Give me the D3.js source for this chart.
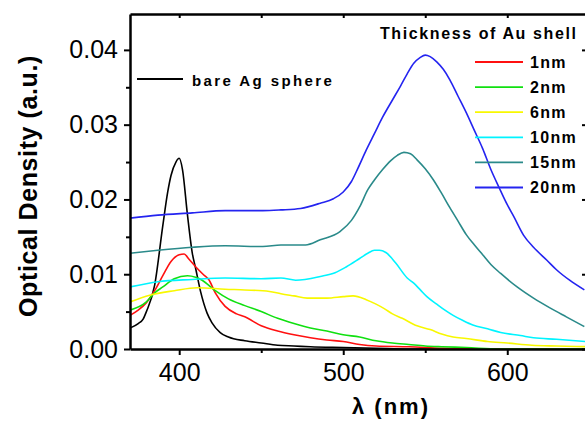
<!DOCTYPE html>
<html>
<head>
<meta charset="utf-8">
<script src="https://cdn.jsdelivr.net/npm/d3@7"></script>
<style>
  body { margin: 0; background: #fff; }
  svg { display: block; font-family: 'Liberation Sans', Arial, sans-serif; }
</style>
</head>
<body>
<svg id="chart" width="585" height="422"></svg>
<script>
// spectra (wavelength in nm, optical density in a.u.)
const agLambda = [370, 375, 378, 380, 385, 390, 393, 395, 398, 400, 402, 405, 408, 410, 413, 417, 420, 425, 430, 440, 450, 460, 470, 480, 500, 520, 540, 650];
const agOD = [0.0028, 0.0034, 0.0040, 0.0050, 0.0085, 0.0165, 0.0210, 0.0232, 0.0250, 0.0255, 0.0240, 0.0180, 0.0128, 0.0108, 0.0077, 0.0048, 0.0035, 0.0022, 0.0016, 0.0011, 0.0008, 0.0005, 0.0004, 0.0003, 0.0002, 0.0001, 0, 0];

const nm1Lambda = [370, 375, 380, 385, 390, 395, 400, 403, 406, 410, 415, 418, 422, 428, 435, 440, 450, 460, 470, 480, 490, 500, 510, 520, 540, 560, 580, 650];
const nm1OD = [0.0045, 0.0052, 0.0062, 0.0078, 0.0098, 0.0117, 0.0126, 0.0127, 0.0120, 0.0110, 0.0099, 0.0093, 0.0075, 0.0057, 0.0047, 0.0043, 0.0031, 0.0024, 0.0019, 0.0015, 0.0012, 0.0010, 0.0006, 0.0004, 0.0003, 0.0001, 0, 0];

const nm2Lambda = [370, 380, 385, 390, 397, 405, 410, 414, 422, 430, 440, 450, 460, 470, 480, 490, 500, 510, 520, 530, 540, 550, 560, 575, 595, 650];
const nm2OD = [0.0052, 0.0063, 0.0075, 0.0083, 0.0094, 0.0098, 0.0096, 0.0092, 0.0078, 0.0067, 0.0058, 0.0050, 0.0041, 0.0034, 0.0028, 0.0024, 0.0019, 0.0016, 0.0011, 0.0008, 0.0006, 0.0004, 0.0003, 0.0002, 0, 0];

const nm6Lambda = [370, 382, 397, 411, 428, 440, 455, 462, 470, 478, 490, 500, 506, 514, 520, 525, 530, 536, 545, 553, 560, 567, 575, 588, 600, 615, 630, 650];
const nm6OD = [0.0063, 0.0072, 0.0078, 0.0082, 0.0080, 0.0079, 0.0077, 0.0074, 0.0071, 0.0068, 0.0068, 0.0070, 0.0071, 0.0066, 0.0060, 0.0054, 0.0047, 0.0041, 0.0031, 0.0026, 0.0020, 0.0016, 0.0014, 0.0010, 0.0008, 0.0005, 0.0004, 0.0003];

const nm10Lambda = [370, 387, 408, 428, 450, 462, 471, 486, 495, 502, 510, 515, 519, 522, 526, 532, 539, 543, 547, 551, 557, 562, 567, 573, 579, 588, 596, 608, 616, 630, 648];
const nm10OD = [0.0083, 0.0090, 0.0093, 0.0095, 0.0094, 0.0095, 0.0092, 0.0097, 0.0102, 0.0110, 0.0121, 0.0128, 0.0132, 0.0132, 0.0129, 0.0115, 0.0095, 0.0088, 0.0079, 0.0070, 0.0060, 0.0052, 0.0045, 0.0038, 0.0032, 0.0027, 0.0022, 0.0018, 0.0015, 0.0013, 0.0010];

const nm15Lambda = [370, 387, 408, 428, 451, 462, 477, 486, 498, 505, 510, 515, 519, 524, 529, 533, 537, 541, 545, 550, 555, 560, 565, 570, 575, 580, 585, 590, 596, 606, 616, 626, 636, 647];
const nm15OD = [0.0128, 0.0132, 0.0136, 0.0138, 0.0137, 0.0139, 0.0139, 0.0146, 0.0157, 0.0172, 0.0190, 0.0213, 0.0226, 0.0240, 0.0252, 0.0259, 0.0263, 0.0261, 0.0253, 0.0241, 0.0226, 0.0208, 0.0189, 0.0171, 0.0153, 0.0139, 0.0126, 0.0113, 0.0101, 0.0083, 0.0068, 0.0055, 0.0043, 0.0030];

const nm20Lambda = [370, 387, 408, 428, 451, 462, 474, 486, 494, 500, 505, 509, 514, 519, 524, 530, 535, 539, 543, 547, 550, 553, 557, 561, 565, 570, 575, 580, 585, 590, 595, 600, 604, 610, 616, 624, 630, 638, 647];
const nm20OD = [0.0175, 0.0179, 0.0182, 0.0185, 0.0185, 0.0186, 0.0188, 0.0195, 0.0201, 0.0210, 0.0224, 0.0242, 0.0266, 0.0288, 0.0310, 0.0333, 0.0352, 0.0368, 0.0382, 0.0390, 0.0393, 0.0391, 0.0384, 0.0374, 0.0360, 0.0338, 0.0316, 0.0292, 0.0268, 0.0240, 0.0216, 0.0193, 0.0177, 0.0152, 0.0136, 0.0119, 0.0106, 0.0092, 0.0079];

const shellLabels = ['1nm', '2nm', '6nm', '10nm', '15nm', '20nm'];
const shellColors = ['#ff1010', '#10e010', '#f8f800', '#00f4ff', '#2a8a8a', '#2424f0'];
const shellLambdas = [nm1Lambda, nm2Lambda, nm6Lambda, nm10Lambda, nm15Lambda, nm20Lambda];
const shellODs = [nm1OD, nm2OD, nm6OD, nm10OD, nm15OD, nm20OD];

const xMajor = [400, 500, 600];
const xMinor = [450, 550, 650];
const yMajor = [0, 0.01, 0.02, 0.03, 0.04];
const yMinor = [0.005, 0.015, 0.025, 0.035];

const x = d3.scaleLinear().domain([370, 648]).range([130, 586]);
const y = d3.scaleLinear().domain([0, 0.0448]).range([349, 14]);

const svg = d3.select('#chart');

svg.append('clipPath').attr('id', 'plot')
  .append('rect').attr('x', 130).attr('y', 14).attr('width', 460).attr('height', 335);

const line = d3.line()
  .x(d => x(d[0]))
  .y(d => y(d[1]))
  .curve(d3.curveMonotoneX);

const series = [{ color: '#000', lambda: agLambda, od: agOD }]
  .concat(shellLabels.map((l, i) => ({ color: shellColors[i], lambda: shellLambdas[i], od: shellODs[i] })));

svg.append('g').attr('clip-path', 'url(#plot)')
  .selectAll('path')
  .data(series)
  .enter()
  .append('path')
  .attr('d', s => line(d3.zip(s.lambda, s.od)))
  .attr('fill', 'none')
  .attr('stroke', s => s.color)
  .attr('stroke-width', 1.6);

// axes
const styleAxis = (g, size) => {
  g.select('.domain').attr('stroke-width', 2.5);
  g.selectAll('.tick line').attr('stroke-width', 2);
  g.selectAll('text').attr('font-size', size).attr('font-family', "'Liberation Sans', Arial, sans-serif");
};

svg.append('g')
  .attr('transform', 'translate(0,349)')
  .call(d3.axisBottom(x).tickValues(xMajor).tickSize(6).tickSizeOuter(0).tickPadding(8).tickFormat(d3.format('d')))
  .call(g => styleAxis(g, 25));
svg.append('g')
  .attr('transform', 'translate(0,349)')
  .call(d3.axisBottom(x).tickValues(xMinor).tickSize(4).tickFormat(''))
  .call(g => g.select('.domain').remove())
  .call(g => g.selectAll('.tick line').attr('stroke-width', 2));

svg.append('g')
  .attr('transform', 'translate(130,0)')
  .call(d3.axisLeft(y).tickValues(yMajor).tickSize(6).tickSizeOuter(0).tickPadding(6).tickFormat(d3.format('.2f')))
  .call(g => styleAxis(g, 25));
svg.append('g')
  .attr('transform', 'translate(130,0)')
  .call(d3.axisLeft(y).tickValues(yMinor).tickSize(4).tickFormat(''))
  .call(g => g.select('.domain').remove())
  .call(g => g.selectAll('.tick line').attr('stroke-width', 2));

svg.append('g')
  .attr('transform', 'translate(0,14)')
  .call(d3.axisTop(x).tickValues(xMajor.concat(xMinor)).tickSize(-4).tickSizeOuter(0).tickFormat(''))
  .call(g => styleAxis(g, 0));

svg.append('g')
  .attr('transform', 'translate(586,0)')
  .call(d3.axisRight(y).tickValues(yMajor).tickSize(-4).tickSizeOuter(0).tickFormat(''))
  .call(g => styleAxis(g, 0));

// axis titles
svg.append('text')
  .attr('transform', 'translate(28,186) rotate(-90)')
  .attr('text-anchor', 'middle')
  .attr('dominant-baseline', 'central')
  .attr('font-size', 25)
  .attr('font-weight', 'bold')
  .attr('letter-spacing', 0.6)
  .text('Optical Density (a.u.)');

svg.append('text')
  .attr('x', 391)
  .attr('y', 414)
  .attr('text-anchor', 'middle')
  .attr('font-size', 22)
  .attr('font-weight', 'bold')
  .attr('letter-spacing', 2)
  .text('λ (nm)');

// legends
svg.append('line')
  .attr('x1', 137).attr('x2', 183).attr('y1', 79).attr('y2', 79)
  .attr('stroke', '#000').attr('stroke-width', 1.8);
svg.append('text')
  .attr('x', 192).attr('y', 80)
  .attr('dominant-baseline', 'central')
  .attr('font-size', 15)
  .attr('font-weight', 'bold')
  .attr('letter-spacing', 2.4)
  .text('bare Ag sphere');

svg.append('text')
  .attr('x', 380).attr('y', 33)
  .attr('dominant-baseline', 'central')
  .attr('font-size', 16)
  .attr('font-weight', 'bold')
  .attr('letter-spacing', 1.6)
  .text('Thickness of Au shell');

const legend = svg.append('g')
  .selectAll('g')
  .data(shellLabels)
  .enter()
  .append('g')
  .attr('transform', (d, i) => `translate(0, ${62 + i * 25.1})`);
legend.append('line')
  .attr('x1', 475).attr('x2', 523)
  .attr('stroke', (d, i) => shellColors[i])
  .attr('stroke-width', 1.8);
legend.append('text')
  .attr('x', 530)
  .attr('dominant-baseline', 'central')
  .attr('font-size', 16)
  .attr('font-weight', 'bold')
  .attr('letter-spacing', 1.3)
  .text(d => d);
</script>
</body>
</html>
